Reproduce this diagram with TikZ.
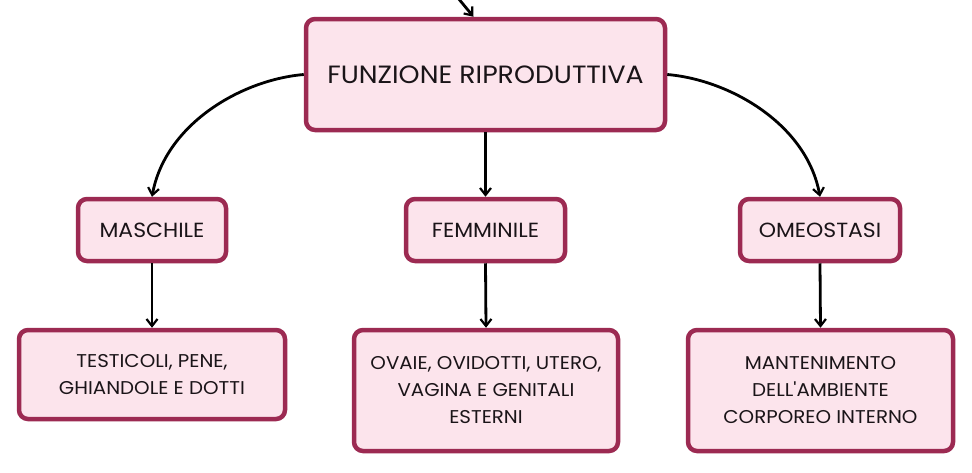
\documentclass[tikz,border=0pt]{standalone}
\usepackage{fontspec}
\setmainfont{Poppins}[FakeStretch=1.07, Ligatures=TeXReset]
\usetikzlibrary{arrows.meta}
\definecolor{bord}{HTML}{9C2A52}
\definecolor{fillc}{HTML}{FCE4EC}
\definecolor{txt}{HTML}{1A1418}
\tikzset{
  box/.style={draw=bord, fill=fillc, line width=4.5pt, rounded corners=9pt, text=txt, align=center, inner sep=0pt},
  conn/.style={draw=black, line width=2.8pt, -{Straight Barb[length=7pt,width=11pt,line width=2.2pt]}},
}
\begin{document}
\begin{tikzpicture}[x=1pt,y=-1pt]
\useasboundingbox (0,0) rectangle (972,472);
\node[box, minimum width=359pt, minimum height=111pt, font=\fontsize{25}{30}\selectfont] (top) at (485.5,74.5) {FUNZIONE RIPRODUTTIVA};
\node[box, minimum width=148pt, minimum height=62pt, font=\fontsize{20.5}{24}\selectfont] (m) at (152,230) {MASCHILE};
\node[box, minimum width=159pt, minimum height=62pt, font=\fontsize{20.5}{24}\selectfont] (f) at (485.5,230) {FEMMINILE};
\node[box, minimum width=160pt, minimum height=62pt, font=\fontsize{20.5}{24}\selectfont] (o) at (820,230) {OMEOSTASI};
\node[box, minimum width=266pt, minimum height=89pt, font=\fontsize{18.5}{27}\selectfont] (mb) at (152,374.5) {TESTICOLI, PENE,\\GHIANDOLE E DOTTI};
\node[box, minimum width=264pt, minimum height=121pt, font=\fontsize{18.5}{27}\selectfont] (fb) at (486,390.5) {OVAIE, OVIDOTTI, UTERO,\\VAGINA E GENITALI\\ESTERNI};
\node[box, minimum width=265pt, minimum height=121pt, font=\fontsize{18.5}{27}\selectfont] (ob) at (820.5,390.5) {MANTENIMENTO\\DELL'AMBIENTE\\CORPOREO INTERNO};
\coordinate (in) at (458,-2);
\draw[conn] (in) -- ([xshift=-12pt]top.north);
\draw[conn] (top.west) .. controls (240,80) and (165,125) .. (m.north);
\draw[conn] (top.east) .. controls (731,80) and (807,125) .. (o.north);
\draw[conn] (top.south) -- (f.north);
\draw[conn] (m.south) -- (mb.north);
\draw[conn] (f.south) -- (fb.north);
\draw[conn] (o.south) -- (ob.north);
\end{tikzpicture}
\end{document}
